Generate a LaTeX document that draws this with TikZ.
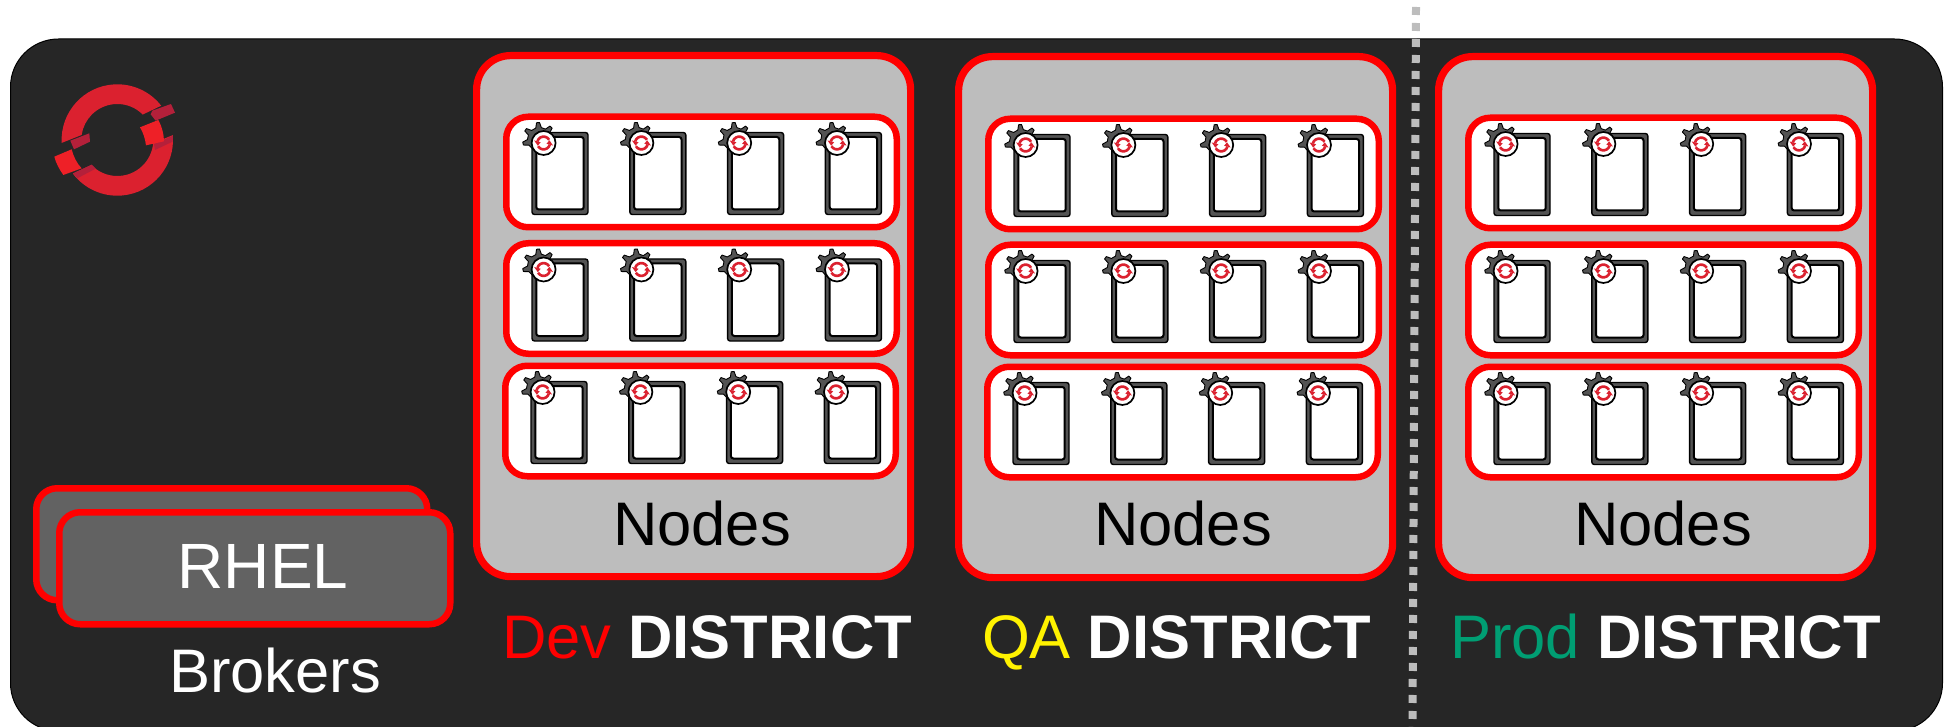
\documentclass[tikz,border=0pt]{standalone}
\usepackage{fontspec}
\setmainfont{Liberation Sans}
\definecolor{bgdark}{HTML}{262626}
\definecolor{panelgrey}{HTML}{BDBDBD}
\definecolor{brokergrey}{HTML}{626262}
\definecolor{logored}{HTML}{DB212F}
\definecolor{logobright}{HTML}{EE2027}
\definecolor{logodark}{HTML}{B4203A}
\definecolor{prodgreen}{HTML}{009E73}
\tikzset{
  x=1pt,y=1pt,
  lbl/.style={inner sep=0,outer sep=0,anchor=base,font=\fontsize{61.5}{61}\selectfont},
  districtlbl/.style={inner sep=0,outer sep=0,anchor=base west,text=white,font=\fontsize{61.5}{61}\selectfont},
  panelbox/.style={draw=red,line width=7.2pt,fill=panelgrey,rounded corners=34pt,anchor=north west,minimum width=434pt,minimum height=521pt,inner sep=0},
  rowbox/.style={draw=red,line width=6.5pt,fill=white,rounded corners=22pt,anchor=north west,minimum width=390.5pt,minimum height=110.5pt,inner sep=0},
  brokerbox/.style={draw=red,line width=6.5pt,fill=brokergrey,rounded corners=21pt,anchor=north west,minimum width=391pt,minimum height=112pt,inner sep=0},
  pics/worker/.style={code={
    \filldraw[fill=brokergrey!85!black,draw=black,line width=1.4pt,rounded corners=2.5pt] (0,0) rectangle (56,-82);
    \filldraw[fill=white,draw=black,line width=2pt,rounded corners=2.5pt] (4.3,-4.5) rectangle (51.7,-77);
    \begin{scope}[shift={(7.5,-7)}]
      \filldraw[fill=brokergrey!85!black,draw=black,line width=.9pt,line join=round]
        (240:12) -- (208:12) -- (199:17) -- (189:17) -- (180:12)
        -- (158:12) -- (150:17) -- (140:17) -- (131:12)
        -- (108:12) -- (100:17) -- (90:17) -- (81:12)
        -- (60:12) -- (52:17) -- (42:17) -- (33:12) -- (0:8) -- cycle;
    \end{scope}
    \filldraw[fill=white,draw=black,line width=1.7pt] (11.6,-10.5) circle[radius=12pt];
    \begin{scope}[shift={(11.6,-10.5)}]
      \draw[logored,line width=2.6pt] (30:6.4pt) arc[start angle=30,end angle=165,radius=6.4pt];
      \draw[logored,line width=2.6pt] (210:6.4pt) arc[start angle=210,end angle=345,radius=6.4pt];
      \fill[logored] (165:9.8) -- (165:3) -- (205:6.4) -- cycle;
      \fill[logored] (345:9.8) -- (345:3) -- (25:6.4) -- cycle;
    \end{scope}
  }}
}
\newcommand{\workerrow}[3]{% name, x, y
  \node[rowbox] (#1) at (#2,-#3) {};
  \foreach \k in {0,1,2,3}{
    \pgfmathsetmacro{\wx}{#2+29+97.8*\k}
    \pgfmathsetmacro{\wy}{#3+19}
    \pic at (\wx,-\wy) {worker};
  }
}
\begin{document}
\begin{tikzpicture}
\useasboundingbox (0,0) rectangle (1949,-727);
\begin{scope}
\clip (0,0) rectangle (1949,-727);
\node[draw=black,line width=1pt,fill=bgdark,rounded corners=48pt,anchor=north west,minimum width=1932pt,minimum height=692pt,inner sep=0] (bg) at (10,-38.5) {};
\end{scope}

% logo
\begin{scope}[shift={(117.3,-140)}]
  \fill[logored] (183:55.7) arc[start angle=183,end angle=38,radius=55.7pt] -- (45:36) arc[start angle=45,end angle=172,radius=36pt] -- cycle;
  \fill[logored] (5:55.7) arc[start angle=5,end angle=-143,radius=55.7pt] -- (-136:36) arc[start angle=-136,end angle=-5,radius=36pt] -- cycle;
\end{scope}
\begin{scope}[shift={(40,-70)},x=.3333pt,y=-.3333pt]
  \fill[logodark] (337,122) -- (393,102) -- (405,128) -- (347,152) -- (332,133) -- cycle;
  \fill[logodark] (91,212) -- (148,190) -- (150,215) -- (102,238) -- cycle;
  \fill[logodark] (342,222) -- (399,197) -- (398,215) -- (345,240) -- cycle;
  \fill[logodark] (100,310) -- (155,284) -- (167,296) -- (112,325) -- cycle;
  \fill[logobright] (300,172) -- (355,150) .. controls (366,170) and (372,195) .. (372,214) -- (318,226) .. controls (316,208) and (310,188) .. (300,172) -- cycle;
  \fill[logobright] (43,260) -- (95,238) .. controls (100,258) and (110,280) .. (125,295) -- (70,315) .. controls (58,298) and (48,280) .. (43,260) -- cycle;
\end{scope}

% brokers
\node[brokerbox] (brokerBack) at (33,-485) {};
\node[brokerbox] (brokerFront) at (56,-509) {};
\node[lbl,text=white,font=\fontsize{64}{64}\selectfont] (rhel) at (263,-588) {RHEL};
\node[lbl,text=white] (brokers) at (275,-692) {Brokers};

% districts
\node[panelbox] (devPanel) at (473,-52) {};
\workerrow{devA}{503}{113.5}
\workerrow{devB}{503}{240}
\workerrow{devC}{502}{362.5}
\node[lbl] (devNodes) at (702,-545) {Nodes};
\node[districtlbl] (devLabel) at (502,-658) {\textcolor{red}{Dev} \textbf{DISTRICT}};

\node[panelbox] (qaPanel) at (955,-53) {};
\workerrow{qaA}{985}{115.5}
\workerrow{qaB}{985}{241.5}
\workerrow{qaC}{984}{363.5}
\node[lbl] (qaNodes) at (1183,-545) {Nodes};
\node[districtlbl] (qaLabel) at (982,-658) {\textcolor{yellow}{QA} \textbf{DISTRICT}};

\node[panelbox] (prodPanel) at (1435,-53) {};
\workerrow{prodA}{1465}{114.5}
\workerrow{prodB}{1465}{241.5}
\workerrow{prodC}{1465}{363.5}
\node[lbl] (prodNodes) at (1663,-545) {Nodes};
\node[districtlbl] (prodLabel) at (1450,-658) {\textcolor{prodgreen}{Prod} \textbf{DISTRICT}};

% separator
\coordinate (sepTop) at (1416,-7);
\coordinate (sepBottom) at (1412.5,-727);
\draw[panelgrey,line width=8pt,dash pattern=on 8pt off 8pt] (sepTop) -- (sepBottom);
\end{tikzpicture}
\end{document}
